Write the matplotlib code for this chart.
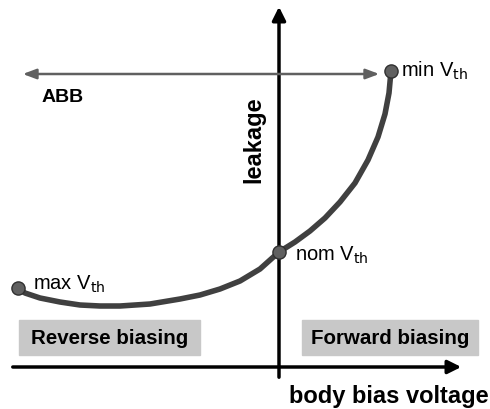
import numpy as np
import matplotlib.pyplot as plt
from matplotlib.patches import FancyArrowPatch, Rectangle

plt.rcParams['font.family'] = ['Liberation Sans', 'DejaVu Sans']

# leakage curve vs body bias (canvas units, y grows downward)
curve_x = [18, 25, 40, 60, 80, 100, 120, 150, 180, 200, 220, 240, 260, 279,
           295, 310, 325, 340, 355, 368, 378, 385, 389, 391]
curve_y = [288, 293, 298, 302, 305, 306, 306, 304, 299, 295, 289, 281, 269, 252,
           242, 231, 218, 202, 183, 160, 137, 114, 93, 71]

pts_x = [18, 279, 391]
pts_y = [288, 252, 71]
pts_lbl = [r'max V$_{\rm th}$', r'nom V$_{\rm th}$', r'min V$_{\rm th}$']
lbl_xy = [(33, 284), (295, 255), (401, 71)]

fig = plt.figure(figsize=(4.9, 4.09), dpi=100)
ax = fig.add_axes([0, 0, 1, 1])
ax.set_xlim(0, 490)
ax.set_ylim(409, 0)
ax.axis('off')

# gray boxes
ax.add_patch(Rectangle((19, 320), 181, 35, color='#c8c8c8', zorder=1))
ax.add_patch(Rectangle((302, 320), 176, 35, color='#c8c8c8', zorder=1))
ax.text(109.5, 339, 'Reverse biasing', ha='center', va='center',
        fontsize=14.8, fontweight='bold', zorder=2)
ax.text(390, 339, 'Forward biasing', ha='center', va='center',
        fontsize=14.8, fontweight='bold', zorder=2)

# axes arrows
ax.add_patch(FancyArrowPatch((10, 367), (464, 367), arrowstyle='-|>,head_length=8,head_width=4',
                             mutation_scale=1, lw=2.5, color='black', zorder=3))
ax.add_patch(FancyArrowPatch((279, 380), (279, 4), arrowstyle='-|>,head_length=8,head_width=4',
                             mutation_scale=1, lw=2.5, color='black', zorder=3))

# ABB range arrow
ax.add_patch(FancyArrowPatch((20, 74), (382, 74), arrowstyle='<|-|>,head_length=8,head_width=3',
                             mutation_scale=1, lw=1.8, color='#606060', zorder=3))
ax.text(42, 97, 'ABB', ha='left', va='center', fontsize=14, fontweight='bold')

ax.plot(curve_x, curve_y, color='#404040', lw=4, solid_capstyle='round', zorder=4)
ax.scatter(pts_x, pts_y, s=90, color='#606060', edgecolor='#303030', lw=1, zorder=5)
for (tx, ty), s in zip(lbl_xy, pts_lbl):
    ax.text(tx, ty, s, ha='left', va='center', fontsize=14.5, zorder=6)

ax.text(254, 140, 'leakage', rotation=90, ha='center', va='center',
        fontsize=17, fontweight='bold')
ax.text(389, 396, 'body bias voltage', ha='center', va='center',
        fontsize=17, fontweight='bold')

fig.savefig('out.png', dpi=100)
